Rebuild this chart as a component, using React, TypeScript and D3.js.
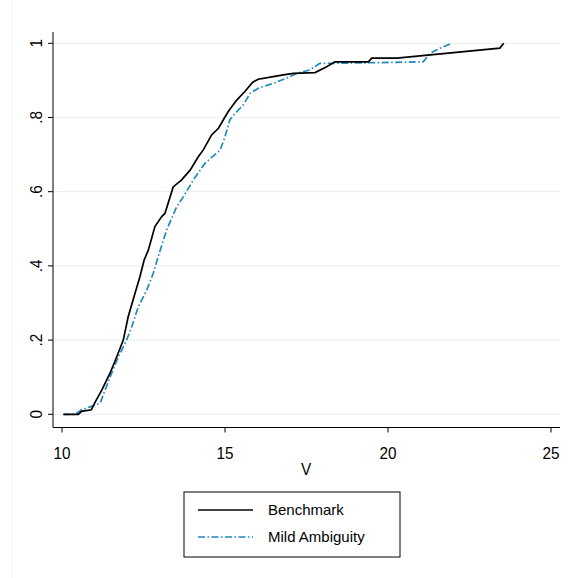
import React from "react";
import * as d3 from "d3";

const benchmark: [number, number][] = [
  [10.05, 0], [10.5, 0], [10.6, 0.008], [10.9, 0.012], [11.0, 0.03], [11.22, 0.065], [11.47, 0.11],
  [11.68, 0.155], [11.88, 0.2], [12.03, 0.263], [12.24, 0.326], [12.39, 0.371], [12.52, 0.416],
  [12.65, 0.443], [12.85, 0.506], [13.06, 0.533], [13.16, 0.542], [13.41, 0.613], [13.67, 0.632],
  [13.93, 0.658], [14.18, 0.694], [14.33, 0.712], [14.59, 0.753], [14.8, 0.771], [14.95, 0.794],
  [15.1, 0.816], [15.36, 0.847], [15.61, 0.87], [15.85, 0.895], [16.02, 0.903], [16.48, 0.91],
  [16.79, 0.915], [17.1, 0.919], [17.76, 0.921], [18.12, 0.937], [18.37, 0.95], [19.4, 0.95],
  [19.5, 0.96], [20.27, 0.96], [23.43, 0.987], [23.55, 1.0],
];

const mildAmbiguity: [number, number][] = [
  [10.03, 0], [10.4, 0], [10.6, 0.012], [10.86, 0.02], [11.17, 0.03], [11.32, 0.065], [11.52, 0.11],
  [11.73, 0.155], [11.98, 0.2], [12.14, 0.236], [12.34, 0.29], [12.6, 0.335], [12.8, 0.38],
  [12.95, 0.425], [13.21, 0.497], [13.52, 0.56], [13.72, 0.586], [14.03, 0.632], [14.39, 0.677],
  [14.85, 0.712], [15.0, 0.748], [15.15, 0.794], [15.31, 0.811], [15.56, 0.834], [15.77, 0.865],
  [16.02, 0.879], [16.48, 0.892], [16.89, 0.906], [17.2, 0.919], [17.6, 0.928], [17.91, 0.946],
  [18.32, 0.946], [21.08, 0.95], [21.29, 0.973], [21.6, 0.987], [21.95, 1.0],
];

const xTicks = [10, 15, 20, 25];
const yTicks = [0, 0.2, 0.4, 0.6, 0.8, 1];
const yTickLabels = ["0", ".2", ".4", ".6", ".8", "1"];
const seriesNames = ["Benchmark", "Mild Ambiguity"];
const xTitle = "V";

export default function App() {
  const W = 574, H = 578;
  const x = d3.scaleLinear().domain([10, 25]).range([62, 551]);
  const y = d3.scaleLinear().domain([0, 1]).range([414.3, 43.3]);
  const line = d3.line<[number, number]>().x(d => x(d[0])).y(d => y(d[1]));
  const font = "'Liberation Sans', Arial, sans-serif";
  const axisLeft = 53, axisBottom = 427.5, plotRight = 560, plotTop = 32;
  const blue = "#1f89bd";
  const dash = "7,2.5,1.5,2.5";
  return (
    <svg width={W} height={H} style={{ position: "absolute", left: 0, top: 0, background: "#fff" }}>
      <rect x={0} y={0} width={W} height={H} fill="#fff" />
      <line x1={12} x2={12} y1={0} y2={H} stroke="#f3f3f3" strokeWidth={1} />
      {yTicks.map(t => (
        <line key={"g" + t} x1={axisLeft} x2={plotRight} y1={y(t)} y2={y(t)} stroke="#eaf1f3" strokeWidth={1.2} />
      ))}
      <line x1={axisLeft} x2={axisLeft} y1={plotTop} y2={axisBottom} stroke="#000" strokeWidth={1} />
      <line x1={axisLeft} x2={plotRight} y1={axisBottom} y2={axisBottom} stroke="#000" strokeWidth={1} />
      {yTicks.map((t, i) => (
        <g key={"y" + t}>
          <line x1={axisLeft - 5} x2={axisLeft} y1={y(t)} y2={y(t)} stroke="#000" />
          <text transform={`translate(41.5,${y(t)}) rotate(-90) scale(0.9,1)`} textAnchor="middle" fontFamily={font} fontSize={17} fill="#000">
            {yTickLabels[i]}
          </text>
        </g>
      ))}
      {xTicks.map(t => (
        <g key={"x" + t}>
          <line x1={x(t)} x2={x(t)} y1={axisBottom} y2={axisBottom + 5} stroke="#000" />
          <text transform={`translate(${x(t)},459) scale(0.9,1)`} textAnchor="middle" fontFamily={font} fontSize={17} fill="#000">{t}</text>
        </g>
      ))}
      <text transform="translate(306,475) scale(0.9,1)" textAnchor="middle" fontFamily={font} fontSize={17} fill="#000">{xTitle}</text>
      <path d={line(mildAmbiguity) || ""} fill="none" stroke={blue} strokeWidth={1.7} strokeDasharray={dash} />
      <path d={line(benchmark) || ""} fill="none" stroke="#000" strokeWidth={1.7} />
      <rect x={184} y={492} width={216} height={65} fill="#fff" stroke="#000" strokeWidth={1} />
      <line x1={198} x2={253} y1={510} y2={510} stroke="#000" strokeWidth={1.7} />
      <text x={268} y={515} fontFamily={font} fontSize={15} fill="#000">{seriesNames[0]}</text>
      <line x1={198} x2={253} y1={537} y2={537} stroke={blue} strokeWidth={1.7} strokeDasharray={dash} />
      <text x={268} y={542} fontFamily={font} fontSize={15} fill="#000">{seriesNames[1]}</text>
    </svg>
  );
}
